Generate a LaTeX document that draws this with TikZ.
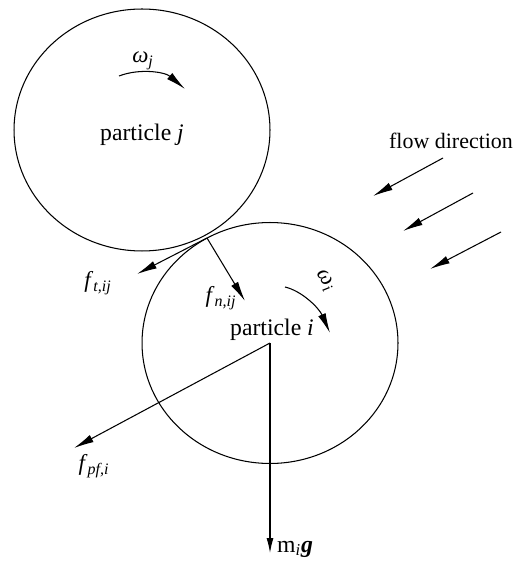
\documentclass[tikz,border=0pt]{standalone}
\usepackage{fontspec}
\setmainfont{Liberation Serif}
\usepackage{tikz}
\usetikzlibrary{arrows.meta}
\tikzset{
  grain/.style ={line width=0.6pt},
  force/.style ={-{Latex[length=4mm,width=1.6mm]}, line width=0.6pt},
  spin/.style  ={-{Latex[length=4mm,width=1.6mm]}, line width=0.6pt},
  lbl/.style   ={font=\fontsize{13}{15}\selectfont, inner sep=1pt},
  plbl/.style  ={font=\fontsize{13.5}{16}\selectfont, inner sep=1pt},
}

\begin{document}
\begin{tikzpicture}[x=0.02cm,y=-0.02cm]
  \useasboundingbox (0,0) rectangle (517,563);

  % the two particles
  \coordinate (cj) at (142,130);
  \coordinate (ci) at (270,343);
  \draw[grain] (cj) ellipse [x radius=2.56cm, y radius=2.42cm];
  \draw[grain] (ci) ellipse [x radius=2.56cm, y radius=2.41cm];
  \node[plbl] (pj) at (142,135) {particle \textit{j}};
  \node[plbl] (pi) at (272,330) {particle \textit{i}};

  % rotation
  \coordinate (wjs) at (119,76);
  \coordinate (wje) at (185,89);
  \draw[spin] (wjs) .. controls (140,68) and (165,72) .. (wje);
  \node[lbl] (wj) at (143,61) {\textit{ω}\textsubscript{\textit{j}}};
  \coordinate (wis) at (285,287);
  \coordinate (wie) at (330,333);
  \draw[spin] (wis) .. controls (302,291) and (319,308) .. (wie);
  \node[lbl,rotate=-58] (wi) at (325,281) {\textit{ω}\textsubscript{\textit{i}}};

  % contact forces
  \coordinate (ct) at (207,238);
  \coordinate (fttip) at (137,274);
  \coordinate (fntip) at (245,301);
  \draw[force] (ct) -- (fttip);
  \draw[force] (ct) -- (fntip);
  \node[lbl] (ft) at (98,283) {\textit{f}\textsubscript{\textit{t,ij}}};
  \node[lbl] (fn) at (221,298) {\textit{f}\textsubscript{\textit{n,ij}}};

  % fluid force and gravity
  \coordinate (pftip) at (74,448);
  \coordinate (gtip) at (270,553);
  \draw[force] (ci) -- (pftip);
  \draw[force,-{Latex[length=3mm,width=1.4mm]}] (ci) -- (gtip);
  \node[lbl] (fpf) at (94,466) {\textit{f}\textsubscript{\textit{pf,i}}};
  \node[plbl,anchor=west] (mg) at (275,549) {m\textsubscript{\textit{i}}\textbf{\textit{g}}};

  % flow
  \node[lbl,font=\fontsize{12.5}{15}\selectfont] (flow) at (451,141) {flow direction};
  \foreach \sx/\sy/\ex/\ey [count=\k] in {443/158/373/196, 473/193/403/231, 501/232/430/269} {
    \coordinate (fs\k) at (\sx,\sy);
    \coordinate (fe\k) at (\ex,\ey);
    \draw[force] (fs\k) -- (fe\k);
  }
\end{tikzpicture}
\end{document}
